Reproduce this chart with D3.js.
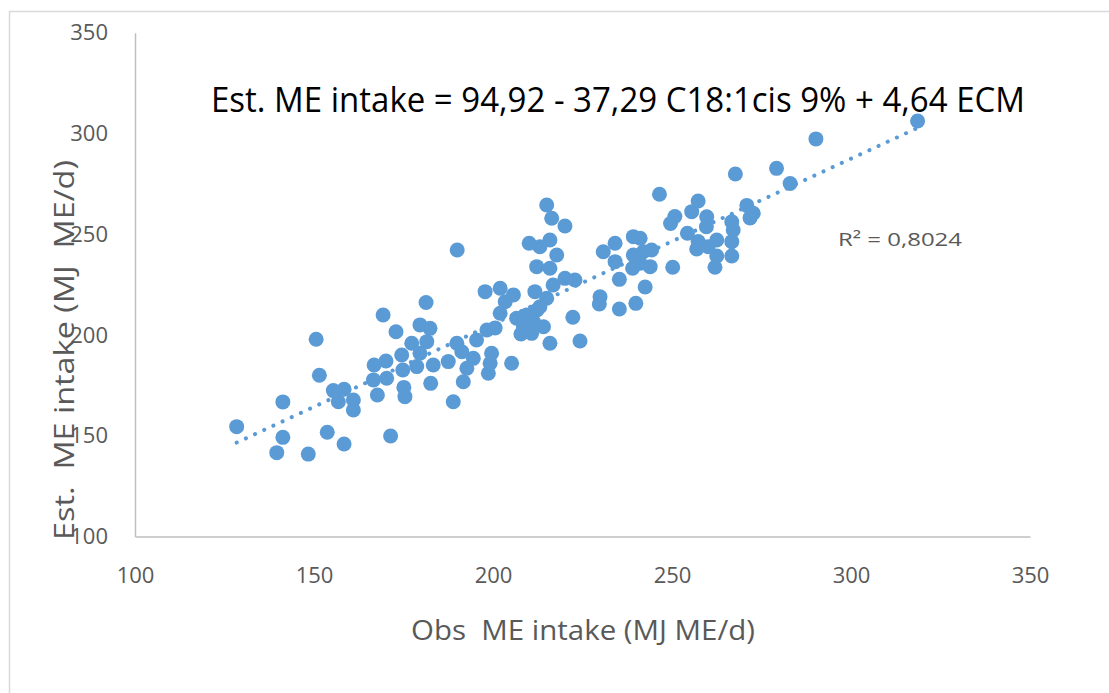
<!DOCTYPE html>
<html>
<head>
<meta charset="utf-8">
<script src="https://cdn.jsdelivr.net/npm/d3@7"></script>
<style>
  html, body { margin: 0; padding: 0; background: #fff; }
  svg { display: block; }
  text { font-family: "Open Sans", "Noto Sans", sans-serif; }
</style>
</head>
<body>
<svg id="chart" width="1109" height="693"></svg>
<script>
// observed ME intake (MJ ME/d)
const obsME = [
  128.4, 141.3, 141.3, 139.6, 148.4, 150.6, 151.5, 153.7, 158.4, 171.4,
  155.4, 158.4, 156.8, 161.0, 161.0, 169.3, 172.9, 181.3, 179.6, 182.4,
  177.3, 181.5, 166.8, 170.1, 166.6, 170.3, 167.7, 174.5, 174.8, 175.1,
  175.4, 179.6, 183.3, 182.6, 187.5, 188.9, 189.9, 178.7, 190.0, 191.3,
  192.7, 191.7, 194.5, 195.4, 198.3, 200.6, 199.6, 199.2, 198.7, 205.2,
  197.8, 202.0, 205.7, 203.4, 202.0, 211.7, 216.8, 220.1, 222.9, 215.0,
  213.1, 206.6, 209.4, 208.5, 210.8, 211.3, 214.1, 215.9, 222.3, 224.3,
  215.0, 216.4, 220.1, 210.1, 213.1, 215.9, 217.8, 212.2, 215.9, 207.8,
  212.3, 229.9, 229.7, 235.3, 239.9, 230.8, 234.1, 234.1, 235.3, 239.2,
  241.1, 239.2, 242.0, 244.3, 241.1, 243.9, 239.0, 242.5, 246.5, 250.2,
  250.8, 249.6, 254.3, 255.5, 257.3, 256.9, 257.3, 259.7, 259.6, 260.1,
  262.5, 262.5, 262.0, 266.7, 267.1, 266.7, 266.7, 270.9, 271.8, 272.7,
  267.7, 279.2, 283.0, 290.2, 318.6
];
// estimated ME intake (MJ ME/d)
const estME = [
  154.5, 166.8, 149.2, 141.6, 140.9, 197.9, 180.0, 151.7, 145.9, 149.9,
  172.4, 173.1, 166.9, 167.7, 162.8, 209.9, 201.6, 216.1, 205.0, 203.3,
  195.9, 196.7, 185.1, 187.1, 177.7, 178.5, 170.2, 190.1, 182.6, 174.0,
  169.4, 190.9, 185.1, 176.0, 186.8, 166.9, 195.9, 184.3, 242.2, 191.7,
  183.5, 176.8, 188.4, 197.5, 202.5, 203.5, 190.9, 186.0, 181.0, 186.0,
  221.5, 223.2, 219.9, 216.5, 210.8, 221.5, 224.8, 228.1, 227.3, 218.2,
  214.0, 208.3, 209.9, 204.1, 200.8, 206.6, 204.1, 195.9, 208.8, 197.0,
  264.5, 257.9, 254.1, 245.5, 243.8, 247.1, 239.7, 233.9, 233.1, 200.5,
  212.4, 219.0, 215.4, 212.9, 215.7, 241.3, 245.5, 236.4, 227.6, 248.8,
  248.0, 239.7, 241.3, 242.2, 235.6, 233.9, 233.1, 223.8, 269.8, 233.6,
  258.8, 255.3, 250.5, 261.2, 266.5, 242.7, 246.4, 258.7, 253.7, 243.8,
  247.1, 239.2, 233.6, 256.2, 252.1, 246.3, 239.2, 264.3, 258.1, 260.4,
  279.9, 282.7, 275.2, 297.3, 306.2
];
const xTicks = [100, 150, 200, 250, 300, 350];
const yTicks = [100, 150, 200, 250, 300, 350];

const titleText = 'Est. ME intake = 94,92 - 37,29 C18:1cis 9% + 4,64 ECM';
const r2Text = 'R\u00b2 = 0,8024';

const blue = '#5b9bd5',
      grey = '#595959',
      axisGrey = '#bfbfbf';

const svg = d3.select('#chart');

// chart frame
svg.append('rect')
    .attr('x', 9.5).attr('y', 11.5)
    .attr('width', 1200).attr('height', 800)
    .attr('fill', 'none')
    .attr('stroke', '#d9d9d9')
    .attr('stroke-width', 1.5);

const x = d3.scaleLinear().domain([100, 350]).range([135, 1030]);
const y = d3.scaleLinear().domain([100, 350]).range([536.5, 32.7]);

// axes
const gx = svg.append('g')
    .attr('transform', 'translate(0,' + y(100) + ')')
    .call(d3.axisBottom(x).tickValues(xTicks).tickSize(0).tickSizeOuter(0));
gx.select('.domain').attr('stroke', axisGrey).attr('stroke-width', 1.5);
gx.selectAll('.tick text')
    .attr('y', 46.5).attr('dy', null)
    .attr('fill', grey)
    .style('font-size', '22px');

const gy = svg.append('g')
    .attr('transform', 'translate(' + x(100) + ',0)')
    .call(d3.axisLeft(y).tickValues(yTicks).tickSize(0).tickSizeOuter(0).tickPadding(27));
gy.select('.domain').attr('stroke', axisGrey).attr('stroke-width', 1.5);
gy.selectAll('.tick text')
    .attr('fill', grey)
    .style('font-size', '22px');

svg.selectAll('.tick line').remove();

// linear trend line (least squares over the points)
const mx = d3.mean(obsME), my = d3.mean(estME);
let sxy = 0, sxx = 0;
obsME.forEach(function(v, i) {
  sxy += (v - mx) * (estME[i] - my);
  sxx += (v - mx) * (v - mx);
});
const slope = sxy / sxx, intercept = my - slope * mx;
const xExt = d3.extent(obsME);

svg.append('line')
    .attr('x1', x(xExt[0])).attr('y1', y(intercept + slope * xExt[0]))
    .attr('x2', x(xExt[1])).attr('y2', y(intercept + slope * xExt[1]))
    .attr('stroke', blue)
    .attr('stroke-width', 4)
    .attr('stroke-linecap', 'round')
    .attr('stroke-dasharray', '0.1 10');

// points
svg.append('g')
  .selectAll('circle')
  .data(obsME.map(function(v, i) { return {x: v, y: estME[i]}; }))
  .enter().append('circle')
    .attr('cx', function(d) { return x(d.x); })
    .attr('cy', function(d) { return y(d.y); })
    .attr('r', 7.5)
    .attr('fill', blue);

// equation title
svg.append('text')
    .attr('x', 211).attr('y', 112)
    .attr('textLength', 814)
    .attr('lengthAdjust', 'spacingAndGlyphs')
    .attr('fill', '#000')
    .style('font-size', '34px')
    .text(titleText);

// R squared
svg.append('text')
    .attr('x', 838).attr('y', 246)
    .attr('textLength', 124)
    .attr('lengthAdjust', 'spacingAndGlyphs')
    .attr('fill', grey)
    .style('font-size', '19px')
    .text(r2Text);

// axis titles
svg.append('text')
    .attr('x', 583).attr('y', 640)
    .attr('text-anchor', 'middle')
    .attr('textLength', 344)
    .attr('lengthAdjust', 'spacingAndGlyphs')
    .attr('fill', grey)
    .style('font-size', '27px')
    .style('white-space', 'pre')
    .text('Obs  ME intake (MJ ME/d)');

svg.append('text')
    .attr('transform', 'translate(74,350) rotate(-90)')
    .attr('text-anchor', 'middle')
    .attr('textLength', 380)
    .attr('lengthAdjust', 'spacingAndGlyphs')
    .attr('fill', grey)
    .style('font-size', '27px')
    .style('white-space', 'pre')
    .text('Est.  ME intake (MJ  ME/d)');
</script>
</body>
</html>
